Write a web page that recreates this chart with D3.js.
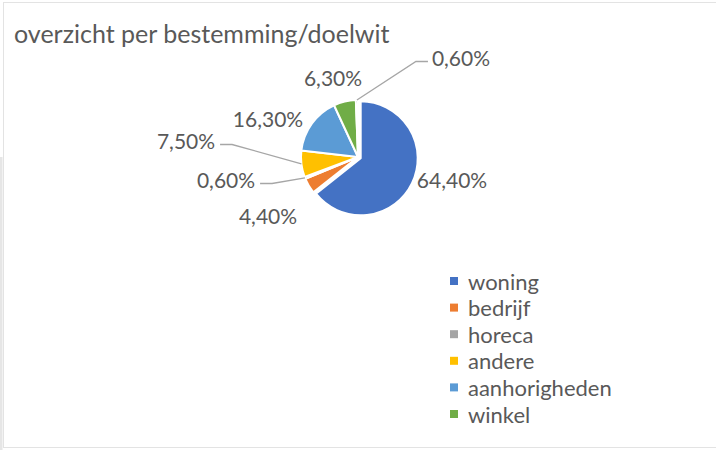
<!DOCTYPE html>
<html>
<head>
<meta charset="utf-8">
<script src="https://cdn.jsdelivr.net/npm/d3@7/dist/d3.min.js"></script>
<style>
  html, body { margin: 0; padding: 0; background: #fff; }
  svg { display: block; }
  text { font-family: Lato, "Open Sans", sans-serif; fill: #595959; }
</style>
</head>
<body>
<svg id="chart" width="716" height="450"></svg>
<script>
// Share per destination (percent of total)
const categories = ["woning", "bedrijf", "horeca", "andere", "aanhorigheden", "winkel", ""];
const values = [64.4, 4.4, 0.6, 7.5, 16.3, 6.3, 0.6];
const colors = ["#4472C4", "#ED7D31", "#A5A5A5", "#FFC000", "#5B9BD5", "#70AD47", "#264478"];
const title = "overzicht per bestemming/doelwit";

const W = 716, H = 450;
const cx = 358, cy = 157, R = 57;

const svg = d3.select("#chart");

// frame
svg.append("rect").attr("x", 0).attr("y", 157).attr("width", 2.5).attr("height", H - 157)
  .attr("fill", "#e6e6e6");
svg.append("rect").attr("x", 3.5).attr("y", 2.5).attr("width", W).attr("height", 445)
  .attr("fill", "#fff").attr("stroke", "#e3e3e3").attr("stroke-width", 1);

svg.append("text").attr("x", 14).attr("y", 43)
  .style("font-size", "25px").text(title);

const nlFormat = d3.formatLocale({ decimal: ",", thousands: ".", grouping: [3], currency: ["€", ""] })
  .format(".2f");
const pctLabel = v => nlFormat(v) + "%";

const color = d3.scaleOrdinal().domain(d3.range(values.length)).range(colors);

const pie = d3.pie().sort(null).value(d => d.value);
const arcs = pie(values.map((v, i) => ({ name: categories[i], value: v, i })));
const arc = d3.arc().innerRadius(0).outerRadius(R);

// the largest slice is pulled out slightly
const explode = d => (d.data.i === 0 ? 3 : 0);
const mid = d => (d.startAngle + d.endAngle) / 2;

const g = svg.append("g").attr("transform", `translate(${cx},${cy})`);

g.selectAll("path.slice").data(arcs).enter().append("path")
  .attr("class", "slice")
  .attr("transform", d => {
    const a = mid(d), e = explode(d);
    return `translate(${Math.sin(a) * e},${-Math.cos(a) * e})`;
  })
  .attr("d", arc)
  .attr("fill", d => color(d.data.i))
  .attr("stroke", "#fff")
  .attr("stroke-width", 2)
  .attr("stroke-linejoin", "round");

// data label placement around the pie (label centre relative to pie centre)
const labelOffsets = [
  [94, 22],    // woning
  [-90, 58],   // bedrijf
  [-132, 22],  // horeca
  [-172, -17], // andere
  [-90, -39],  // aanhorigheden
  [-25, -80],  // winkel
  [103, -100]  // (leeg)
];
const withLeader = new Set([2, 3, 6]);

const labelG = g.append("g");
arcs.forEach(d => {
  const i = d.data.i;
  const [lx, ly] = labelOffsets[i];
  const t = labelG.append("text")
    .attr("x", lx).attr("y", ly)
    .attr("text-anchor", "middle")
    .attr("dominant-baseline", "central")
    .style("font-size", "21px")
    .text(pctLabel(d.data.value));
  if (withLeader.has(i)) {
    const w = t.node().getComputedTextLength();
    const a = mid(d);
    const px = Math.sin(a) * R, py = -Math.cos(a) * R;
    const left = lx < px;
    const sx = left ? lx + w / 2 + 5 : lx - w / 2 - 4;
    const ex = left ? sx + 12 : sx - 12;
    const yy = ly + 4.5;
    g.append("path")
      .attr("d", d3.line()([[sx, yy], [ex, yy], [px, py]]))
      .attr("fill", "none")
      .attr("stroke", "#A6A6A6")
      .attr("stroke-width", 1.3);
  }
});

// legend
const legendItems = categories.map((c, i) => ({ name: c, i })).filter(d => d.name !== "");
const legend = svg.append("g").attr("transform", "translate(450,281)");
const row = legend.selectAll("g").data(legendItems).enter().append("g")
  .attr("transform", (d, k) => `translate(0,${k * 26.6})`);
row.append("rect").attr("x", 0).attr("y", -4).attr("width", 8).attr("height", 8)
  .attr("fill", d => color(d.i));
row.append("text").attr("x", 18).attr("y", 0)
  .attr("dominant-baseline", "central")
  .style("font-size", "22px")
  .text(d => d.name);
</script>
</body>
</html>
